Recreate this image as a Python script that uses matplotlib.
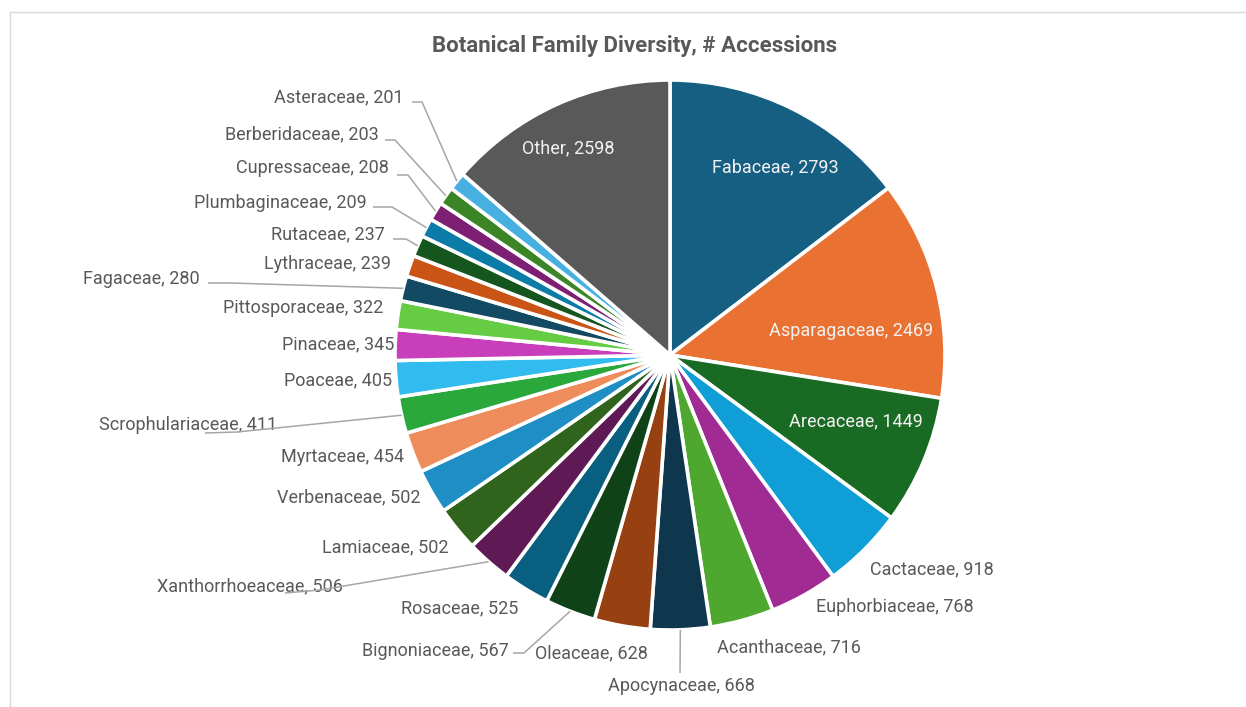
import numpy as np
import matplotlib.pyplot as plt
from matplotlib.lines import Line2D

plt.rcParams['font.family'] = ['Roboto', 'DejaVu Sans']

# data
families = ['Fabaceae', 'Asparagaceae', 'Arecaceae', 'Cactaceae', 'Euphorbiaceae',
            'Acanthaceae', 'Apocynaceae', 'Oleaceae', 'Bignoniaceae', 'Rosaceae',
            'Xanthorrhoeaceae', 'Lamiaceae', 'Verbenaceae', 'Myrtaceae',
            'Scrophulariaceae', 'Poaceae', 'Pinaceae', 'Pittosporaceae', 'Fagaceae',
            'Lythraceae', 'Rutaceae', 'Plumbaginaceae', 'Cupressaceae',
            'Berberidaceae', 'Asteraceae', 'Other']
accessions = [2793, 2469, 1449, 918, 768, 716, 668, 628, 567, 525, 506, 502, 502,
              454, 411, 405, 345, 322, 280, 239, 237, 209, 208, 203, 201, 2598]

colors = ['#156082', '#E97132', '#196B24', '#0F9ED5', '#A02B93', '#4EA72E',
          '#0E374D', '#974012', '#0F4217', '#095F80', '#5F1A56', '#30631C',
          '#1E8EC4', '#EE8C5C', '#2AA83C', '#31BBEF', '#C83EBB', '#66CC44',
          '#124A63', '#CA5416', '#14561E', '#0B7BA8', '#7D1F72', '#3B8527',
          '#47B0E0', '#595959']

W, H = 1246, 707
fig = plt.figure(figsize=(W / 100, H / 100), dpi=100)
ax = fig.add_axes([0, 0, 1, 1])

cx, cy, R = 670, H - 355, 275
wedges, _ = ax.pie(accessions, colors=colors, startangle=90, counterclock=False,
                   center=(cx, cy), radius=R, frame=True,
                   wedgeprops=dict(edgecolor='white', linewidth=2.6))
ax.set_xlim(0, W)
ax.set_ylim(0, H)
ax.set_aspect('equal')
ax.axis('off')

# label layout in pixel coords (x, y from top); leader start points
inside = {'Fabaceae': (775, 167), 'Asparagaceae': (851, 331),
          'Arecaceae': (856, 421), 'Other': (568, 148)}
outside = {
    'Cactaceae': (932, 569), 'Euphorbiaceae': (895, 607), 'Acanthaceae': (789, 647),
    'Apocynaceae': (681, 686), 'Oleaceae': (591, 653), 'Bignoniaceae': (435, 651),
    'Rosaceae': (460, 608), 'Xanthorrhoeaceae': (250, 586), 'Lamiaceae': (385, 547),
    'Verbenaceae': (349, 497), 'Myrtaceae': (343, 457), 'Scrophulariaceae': (188, 425),
    'Poaceae': (338, 380), 'Pinaceae': (338, 344), 'Pittosporaceae': (303, 308),
    'Fagaceae': (141, 279), 'Lythraceae': (328, 264), 'Rutaceae': (328, 234),
    'Plumbaginaceae': (280, 203), 'Cupressaceae': (312, 168),
    'Berberidaceae': (302, 134), 'Asteraceae': (339, 97),
}
leaders = {
    'Apocynaceae': [(680, 673)],
    'Bignoniaceae': [(513, 653), (524, 653)],
    'Xanthorrhoeaceae': [(285, 593), (320, 590)],
    'Scrophulariaceae': [(205, 433), (237, 432)],
    'Fagaceae': [(208, 283), (230, 283)],
    'Rutaceae': [(393, 239), (406, 239)],
    'Plumbaginaceae': [(373, 207), (392, 207)],
    'Cupressaceae': [(397, 175), (408, 175)],
    'Berberidaceae': [(385, 140), (395, 140)],
    'Asteraceae': [(412, 102), (422, 102)],
}

for w, name, val in zip(wedges, families, accessions):
    txt = f'{name}, {val}'
    if name in inside:
        x, y = inside[name]
        ax.text(x, H - y, txt, ha='center', va='center', fontsize=13, color='#F2F2F2')
    elif name in outside:
        x, y = outside[name]
        ax.text(x, H - y, txt, ha='center', va='center', fontsize=13, color='#595959')
    if name in leaders:
        mid = np.deg2rad((w.theta1 + w.theta2) / 2)
        pts = [(px, H - py) for px, py in leaders[name]]
        pts.append((cx + R * np.cos(mid), cy + R * np.sin(mid)))
        xs, ys = zip(*pts)
        ax.plot(xs, ys, color='#A6A6A6', lw=1.1, solid_capstyle='butt', zorder=5)

ax.text(635, H - 46, 'Botanical Family Diversity, # Accessions', ha='center',
        va='center', fontsize=16, fontweight='bold', color='#595959')

# chart frame
fig.add_artist(Line2D([10 / W, 1], [1 - 12 / H, 1 - 12 / H], color='#D9D9D9', lw=1))
fig.add_artist(Line2D([10 / W, 10 / W], [0, 1 - 12 / H], color='#D9D9D9', lw=1))

fig.savefig('out.png', dpi=100)
